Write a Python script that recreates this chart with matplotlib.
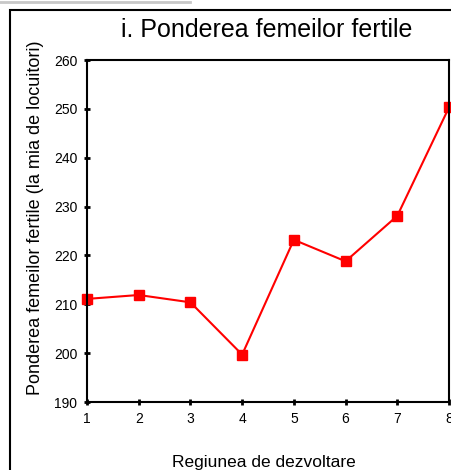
import matplotlib
matplotlib.use('Agg')
import matplotlib.pyplot as plt
from matplotlib.patches import Rectangle
from matplotlib.lines import Line2D

plt.rcParams['font.family'] = ['Liberation Sans', 'DejaVu Sans']

regiuni = [1, 2, 3, 4, 5, 6, 7, 8]
pondere = [211.1, 211.9, 210.4, 199.7, 223.2, 218.8, 228.1, 250.3]
y_ticks = [190, 200, 210, 220, 230, 240, 250, 260]

W, H = 451, 470
fig = plt.figure(figsize=(W / 100, H / 100), dpi=100)
ax = fig.add_axes([87 / W, 1 - 402 / H, (449 - 87) / W, (402 - 60) / H])

ax.plot(regiuni, pondere, color='red', lw=1.5, marker='s', markersize=7,
        markerfacecolor='red', markeredgecolor='red', clip_on=False)

ax.set_xlim(1, 8)
ax.set_ylim(190, 260)
ax.set_xticks(regiuni)
ax.set_yticks(y_ticks)
ax.tick_params(direction='inout', length=4, width=2, labelsize=10, pad=5)
for s in ax.spines.values():
    s.set_linewidth(1.5)

fig.text(267 / W, 1 - 30 / H, 'i. Ponderea femeilor fertile', ha='center', va='center', fontsize=18)
fig.text(264 / W, 1 - 462 / H, 'Regiunea de dezvoltare', ha='center', va='center', fontsize=12.5)
fig.text(36 / W, 1 - 218 / H, 'Ponderea femeilor fertile (la mia de locuitori)', ha='center', va='center',
         rotation=90, fontsize=13)

# outer frame
fig.add_artist(Rectangle((10 / W, -0.1), 1.2, 1 - 10 / H + 0.1, transform=fig.transFigure,
                         fill=False, edgecolor='black', lw=1.5))
fig.add_artist(Line2D([0, 190 / W], [1 - 1.5 / H, 1 - 1.5 / H], transform=fig.transFigure,
                      color='#c8c8c8', lw=2))

fig.savefig('out.png', dpi=100)
